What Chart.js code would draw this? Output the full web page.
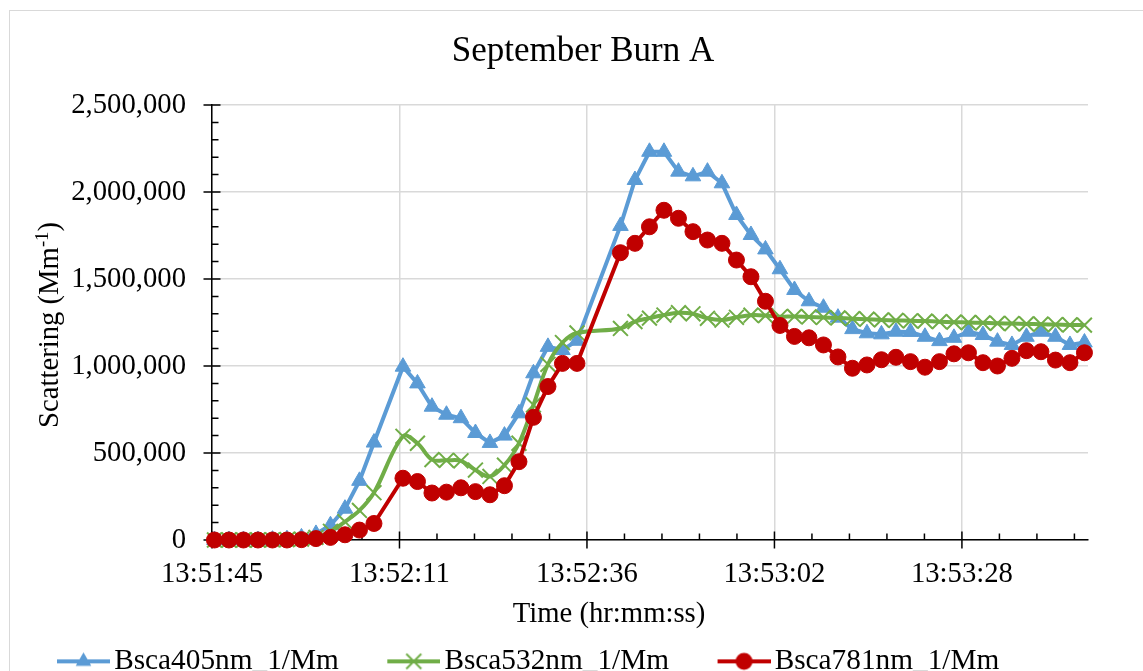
<!DOCTYPE html>
<html><head><meta charset="utf-8">
<script src="https://cdn.jsdelivr.net/npm/chart.js@4.4.0/dist/chart.umd.min.js"></script>
<style>
html,body{margin:0;padding:0;background:#fff;overflow:hidden;width:1143px;height:671px;}
#frame{position:absolute;left:9px;top:10px;width:1160px;height:720px;border:1px solid #d9d9d9;box-sizing:border-box;}
#wrap{position:absolute;left:0;top:0;width:1143px;height:686px;}
canvas{display:block;}
</style></head><body>
<div id="frame"></div>
<div id="wrap"><canvas id="c" width="1143" height="686" style="width:1143px;height:686px"></canvas></div>
<script>
// ---- data ----
const times = [
 '13:51:45','13:51:47','13:51:49','13:51:51','13:51:53','13:51:55','13:51:57','13:51:59',
 '13:52:01','13:52:03','13:52:05','13:52:07',
 '13:52:11','13:52:13','13:52:15','13:52:17','13:52:19','13:52:21','13:52:23','13:52:25','13:52:27','13:52:29','13:52:31','13:52:33','13:52:35',
 '13:52:41','13:52:43','13:52:45','13:52:47','13:52:49','13:52:51','13:52:53','13:52:55','13:52:57','13:52:59',
 '13:53:01','13:53:03','13:53:05','13:53:07','13:53:09','13:53:11','13:53:13','13:53:15','13:53:17','13:53:19','13:53:21','13:53:23',
 '13:53:25','13:53:27','13:53:29','13:53:31','13:53:33','13:53:35','13:53:37','13:53:39','13:53:41','13:53:43','13:53:45'
];
const bsca405 = [
 0,0,0,0,2000,5000,15000,35000,
 85000,180000,340000,560000,
 996000,900000,766000,720000,700000,615000,558000,600000,728000,958000,1110000,1092000,1145000,
 1805000,2069000,2231000,2231000,2117000,2090000,2117000,2050000,1868000,1753000,
 1670000,1556000,1437000,1372000,1335000,1278000,1212000,1188000,1182000,1197000,1196000,1168000,
 1143000,1162000,1197000,1178000,1140000,1121000,1168000,1197000,1168000,1121000,1135000
];
const bsca532 = [
 0,0,0,0,1000,2000,5000,15000,
 50000,105000,170000,272000,
 596000,556000,462000,458000,455000,402000,365000,430000,556000,776000,1010000,1135000,1190000,
 1216000,1255000,1275000,1293000,1306000,1300000,1274000,1264000,1280000,1292000,
 1290000,1283000,1285000,1282000,1279000,1276000,1272000,1269000,1265000,1262000,1260000,1258000,
 1255000,1252000,1250000,1248000,1245000,1244000,1242000,1240000,1238000,1236000,1235000
];
const bsca781 = [
 0,0,0,0,0,0,2000,8000,
 15000,30000,57000,95000,
 355000,336000,270000,275000,300000,278000,260000,312000,450000,705000,882000,1015000,1015000,
 1651000,1705000,1800000,1895000,1849000,1772000,1724000,1705000,1609000,1513000,
 1372000,1233000,1170000,1162000,1121000,1052000,987000,1006000,1036000,1050000,1025000,993000,
 1025000,1070000,1076000,1019000,1000000,1044000,1088000,1082000,1034000,1019000,1076000
];
const seriesNames = ['Bsca405nm_1/Mm','Bsca532nm_1/Mm','Bsca781nm_1/Mm'];
const xTickLabels = ['13:51:45','13:52:11','13:52:36','13:53:02','13:53:28'];
const yTickStep = 500000;
const yMax = 2500000;

// ---- helpers ----
const FONT = "'Liberation Serif','Times New Roman',serif";
const toSec = t => { const p = t.split(':').map(Number); return p[0]*3600 + p[1]*60 + p[2]; };
const xMin = toSec('13:51:45') - 0.34;
const majorUnit = 25.86;
const xMax = xMin + 120.83;
const pts = arr => arr.map((v, i) => ({x: toSec(times[i]), y: v}));

const BLUE = '#5B9BD5', GREEN = '#70AD47', RED = '#C00000';

function legendIcon(color, kind) {
  const c = document.createElement('canvas');
  c.width = 102; c.height = 26;
  const g = c.getContext('2d');
  g.strokeStyle = color; g.lineWidth = 4;
  g.beginPath(); g.moveTo(49, 13); g.lineTo(102, 13); g.stroke();
  const cx = 75.5, cy = 13;
  g.fillStyle = color;
  if (kind === 'triangle') {
    const r = 9;
    g.beginPath();
    g.moveTo(cx, cy - r);
    g.lineTo(cx + 0.866*r, cy + 0.5*r);
    g.lineTo(cx - 0.866*r, cy + 0.5*r);
    g.closePath(); g.fill();
  } else if (kind === 'circle') {
    g.beginPath(); g.arc(cx, cy, 8.5, 0, Math.PI*2); g.fill();
  } else {
    const d = 7.5;
    g.lineWidth = 2;
    g.beginPath();
    g.moveTo(cx - d, cy - d); g.lineTo(cx + d, cy + d);
    g.moveTo(cx - d, cy + d); g.lineTo(cx + d, cy - d);
    g.stroke();
  }
  return c;
}
const icons = [legendIcon(BLUE,'triangle'), legendIcon(GREEN,'cross'), legendIcon(RED,'circle')];

const excelAxes = {
  id: 'excelAxes',
  afterLayout(chart) {
    const t = chart.titleBlock;
    if (t) { t.left = 9; t.right = 1157; }
  },
  beforeDatasetsDraw(chart) {
    const ctx = chart.ctx, xs = chart.scales.x, ys = chart.scales.y, ca = chart.chartArea;
    ctx.save();
    ctx.strokeStyle = '#000'; ctx.lineWidth = 1.5;
    ctx.beginPath();
    const minor = majorUnit / 5;
    for (let k = 0; xMin + k*minor <= xMax + 0.01; k++) {
      const px = xs.getPixelForValue(xMin + k*minor);
      if (k % 5 === 0) { ctx.moveTo(px, ca.bottom - 8.5); ctx.lineTo(px, ca.bottom + 8.5); }
      else { ctx.moveTo(px, ca.bottom - 6.5); ctx.lineTo(px, ca.bottom); }
    }
    for (let v = 0; v <= yMax + 1; v += yTickStep / 5) {
      const py = ys.getPixelForValue(v);
      if (Math.round(v) % yTickStep === 0) { ctx.moveTo(ca.left - 8.5, py); ctx.lineTo(ca.left + 8.5, py); }
      else { ctx.moveTo(ca.left, py); ctx.lineTo(ca.left + 6.5, py); }
    }
    ctx.stroke();
    ctx.restore();
  },
  afterDraw(chart) {
    const ctx = chart.ctx;
    ctx.save();
    ctx.fillStyle = '#000';
    ctx.textBaseline = 'alphabetic';
    ctx.font = '28.7px ' + FONT;
    ctx.textAlign = 'center';
    ctx.fillText('Time (hr:mm:ss)', 609, 622);
    // y title with superscript
    ctx.translate(58, 325);
    ctx.rotate(-Math.PI / 2);
    ctx.textAlign = 'left';
    const main = 'Scattering (Mm', sup = '-1', close = ')';
    ctx.font = '28.7px ' + FONT;
    const w1 = ctx.measureText(main).width, w3 = ctx.measureText(close).width;
    ctx.font = '18.6px ' + FONT;
    const w2 = ctx.measureText(sup).width;
    const start = -(w1 + w2 + w3) / 2;
    ctx.font = '28.7px ' + FONT;
    ctx.fillText(main, start, 0);
    ctx.fillText(close, start + w1 + w2, 0);
    ctx.font = '18.6px ' + FONT;
    ctx.fillText(sup, start + w1, -10);
    ctx.restore();
  }
};

const ds = (label, data, color, style, extra) => Object.assign({
  label, data: pts(data),
  borderColor: color, backgroundColor: color,
  borderWidth: 4, pointStyle: style,
  pointBackgroundColor: color, pointBorderColor: color,
  pointBorderWidth: 1, tension: 0, clip: false
}, extra);

new Chart(document.getElementById('c'), {
  type: 'line',
  data: {
    datasets: [
      ds(seriesNames[0], bsca405, BLUE, 'triangle', {pointRadius: 9, order: 3}),
      ds(seriesNames[1], bsca532, GREEN, 'crossRot', {pointRadius: 10.5, pointBorderWidth: 2, tension: 0.35, order: 2}),
      ds(seriesNames[2], bsca781, RED, 'circle', {pointRadius: 8, order: 1})
    ]
  },
  options: {
    responsive: false,
    animation: false,
    events: [],
    devicePixelRatio: 1,
    layout: {padding: {left: 8.5, right: 55, top: 30.5, bottom: 0}},
    scales: {
      x: {
        type: 'linear', min: xMin, max: xMax,
        afterBuildTicks: s => { s.ticks = xTickLabels.map((_, k) => ({value: xMin + k*majorUnit})); },
        afterFit: s => { s.height = 96.7; },
        ticks: {
          autoSkip: false, maxRotation: 0, padding: 17.3, color: '#000',
          font: {family: FONT, size: 28.7},
          callback: (v, i) => xTickLabels[i] ?? ''
        },
        grid: {color: '#d9d9d9', lineWidth: 1.5, drawTicks: false},
        border: {color: '#000', width: 1.5}
      },
      y: {
        min: 0, max: yMax,
        afterFit: s => { s.width = 203.5; },
        ticks: {
          stepSize: yTickStep, padding: 26, color: '#000',
          font: {family: FONT, size: 28.7},
          callback: v => Number(v).toLocaleString('en-US')
        },
        grid: {color: '#d9d9d9', lineWidth: 1.5, drawTicks: false},
        border: {color: '#000', width: 1.5}
      }
    },
    plugins: {
      title: {
        display: true, text: 'September Burn A', color: '#000',
        font: {family: FONT, size: 35, weight: 'normal', lineHeight: 1.2},
        padding: {top: 0, bottom: 32.5}
      },
      legend: {
        position: 'bottom', align: 'start',
        labels: {
          usePointStyle: true, pointStyleWidth: 81, padding: 10, color: '#000',
          font: {family: FONT, size: 29.3},
          generateLabels: chart => chart.data.datasets.map((d, i) => ({
            text: d.label, pointStyle: icons[i], fillStyle: d.borderColor,
            strokeStyle: d.borderColor, lineWidth: 0, hidden: false, datasetIndex: i
          }))
        }
      },
      tooltip: {enabled: false}
    }
  },
  plugins: [excelAxes]
});
</script>
</body></html>
